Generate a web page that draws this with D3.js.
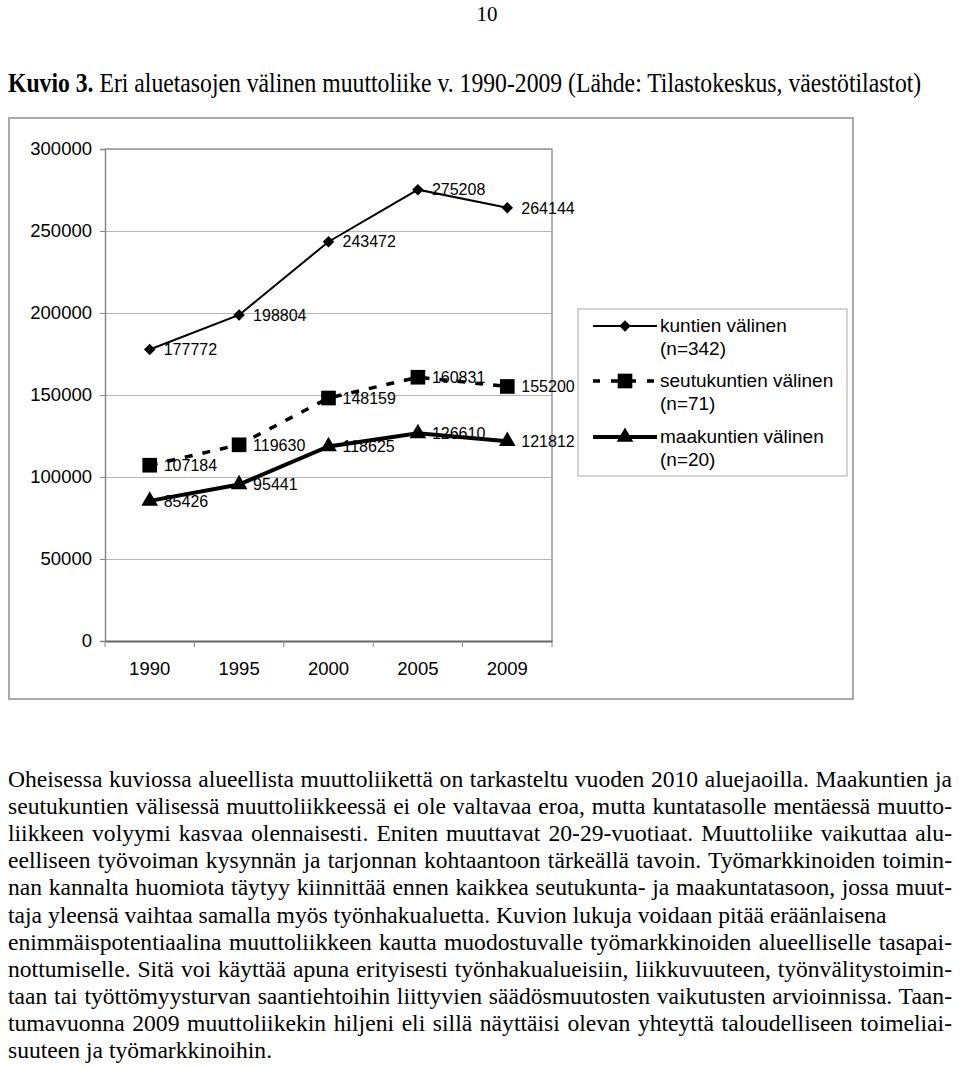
<!DOCTYPE html>
<html>
<head>
<meta charset="utf-8">
<script src="https://cdn.jsdelivr.net/npm/d3@7"></script>
<style>
  body { margin: 0; background: #fff; }
  .sans { font-family: "Liberation Sans", Arial, Helvetica, sans-serif; }
  .serif { font-family: "Liberation Serif", "Times New Roman", Times, serif; }
</style>
</head>
<body>
<div id="img"></div>
<script>
// data
const years = ["1990", "1995", "2000", "2005", "2009"];
const kuntien = [177772, 198804, 243472, 275208, 264144];
const seutukuntien = [107184, 119630, 148159, 160831, 155200];
const maakuntien = [85426, 95441, 118625, 126610, 121812];
const yTicks = [0, 50000, 100000, 150000, 200000, 250000, 300000];
const legendNames = [["kuntien välinen", "(n=342)"], ["seutukuntien välinen", "(n=71)"], ["maakuntien välinen", "(n=20)"]];

const pageNo = "10";
const titleBold = "Kuvio 3.";
const titleRest = " Eri aluetasojen välinen muuttoliike v. 1990-2009 (Lähde: Tilastokeskus, väestötilastot)";
const para = [
  "Oheisessa kuviossa alueellista muuttoliikettä on tarkasteltu vuoden 2010 aluejaoilla. Maakuntien ja",
  "seutukuntien välisessä muuttoliikkeessä ei ole valtavaa eroa, mutta kuntatasolle mentäessä muutto-",
  "liikkeen volyymi kasvaa olennaisesti. Eniten muuttavat 20-29-vuotiaat. Muuttoliike vaikuttaa alu-",
  "eelliseen työvoiman kysynnän ja tarjonnan kohtaantoon tärkeällä tavoin. Työmarkkinoiden toimin-",
  "nan kannalta huomiota täytyy kiinnittää ennen kaikkea seutukunta- ja maakuntatasoon, jossa muut-",
  "taja yleensä vaihtaa samalla myös työnhakualuetta. Kuvion lukuja voidaan pitää eräänlaisena",
  "enimmäispotentiaalina muuttoliikkeen kautta muodostuvalle työmarkkinoiden alueelliselle tasapai-",
  "nottumiselle. Sitä voi käyttää apuna erityisesti työnhakualueisiin, liikkuvuuteen, työnvälitystoimin-",
  "taan tai työttömyysturvan saantiehtoihin liittyvien säädösmuutosten vaikutusten arvioinnissa. Taan-",
  "tumavuonna 2009 muuttoliikekin hiljeni eli sillä näyttäisi olevan yhteyttä taloudelliseen toimeliai-",
  "suuteen ja työmarkkinoihin."
];
const justified = [true, true, true, true, true, false, true, true, true, true, false];

const W = 960, H = 1068;
const svg = d3.select("#img").append("svg")
    .attr("width", W)
    .attr("height", H);

// sivunumero ja otsikko
svg.append("text").attr("class", "serif")
    .attr("x", 487).attr("y", 21)
    .attr("text-anchor", "middle")
    .style("font-size", "21px")
    .text(pageNo);

const title = svg.append("text").attr("class", "serif")
    .attr("transform", "translate(8,92) scale(1,1.15)")
    .style("font-size", "23.7px");
title.append("tspan").style("font-weight", "bold").text(titleBold);
title.append("tspan").text(titleRest);

// kaavion kehys
svg.append("rect")
    .attr("x", 9).attr("y", 118)
    .attr("width", 844).attr("height", 581)
    .attr("fill", "none").attr("stroke", "#aaa").attr("stroke-width", 2);

const plot = {left: 105, top: 149, right: 552, bottom: 641};

const x = d3.scaleBand().domain(years).range([plot.left, plot.right]).padding(0);
const y = d3.scaleLinear().domain([0, 300000]).range([plot.bottom, plot.top]);

// ruudukko
svg.append("g")
    .attr("transform", `translate(${plot.left},0)`)
    .call(d3.axisLeft(y).tickValues(yTicks).tickSize(-(plot.right - plot.left)).tickFormat(""))
    .call(g => g.select(".domain").remove())
    .call(g => g.selectAll("line").attr("stroke", "#b5b5b5").attr("stroke-width", 1));

// piirtoalueen reunat
svg.append("path")
    .attr("d", `M${plot.left},${plot.top}H${plot.right}V${plot.bottom}`)
    .attr("fill", "none").attr("stroke", "#999").attr("stroke-width", 1.5);

// y-akseli
svg.append("g").attr("class", "sans")
    .attr("transform", `translate(${plot.left},0)`)
    .call(d3.axisLeft(y).tickValues(yTicks).tickSize(5).tickPadding(8).tickFormat(d => d))
    .call(g => g.select(".domain").attr("stroke", "#888").attr("stroke-width", 1.5))
    .call(g => g.selectAll("line").attr("stroke", "#888"))
    .call(g => g.selectAll("text").attr("fill", "#000").style("font-size", "18.5px").style("font-family", null));

// x-akseli
svg.append("g").attr("class", "sans")
    .attr("transform", `translate(0,${plot.bottom})`)
    .call(d3.axisBottom(x).tickSize(0).tickPadding(21))
    .call(g => g.select(".domain").attr("stroke", "#666").attr("stroke-width", 2))
    .call(g => g.selectAll("text").attr("fill", "#000").style("font-size", "18.5px").style("font-family", null));

const bounds = years.map(d => x(d)).concat([plot.right]);
svg.append("g").selectAll("line").data(bounds).join("line")
    .attr("x1", d => d).attr("x2", d => d)
    .attr("y1", plot.bottom).attr("y2", plot.bottom + 6)
    .attr("stroke", "#888").attr("stroke-width", 1);

// sarjat
const series = [
  {name: legendNames[0], values: kuntien, width: 2, dash: null,
   symbol: d3.symbol().type(d3.symbolSquare).size(66), rotate: 45},
  {name: legendNames[1], values: seutukuntien, width: 3.5, dash: "8,10",
   symbol: d3.symbol().type(d3.symbolSquare).size(215), rotate: 0},
  {name: legendNames[2], values: maakuntien, width: 4, dash: null,
   symbol: d3.symbol().type(d3.symbolTriangle).size(120), rotate: 0}
];

const cx = i => x(years[i]) + x.bandwidth() / 2;

const line = d3.line()
    .x((d, i) => cx(i))
    .y(d => y(d));

series.forEach(s => {
  svg.append("path")
      .datum(s.values)
      .attr("d", line)
      .attr("fill", "none")
      .attr("stroke", "#000")
      .attr("stroke-width", s.width)
      .attr("stroke-dasharray", s.dash);

  svg.append("g").selectAll("path")
      .data(s.values)
      .join("path")
      .attr("d", s.symbol)
      .attr("transform", (d, i) => `translate(${cx(i)},${y(d)}) rotate(${s.rotate})`)
      .attr("fill", "#000");

  svg.append("g").attr("class", "sans").selectAll("text")
      .data(s.values)
      .join("text")
      .attr("x", (d, i) => cx(i) + 14)
      .attr("y", d => y(d))
      .attr("dy", "0.36em")
      .style("font-size", "16px")
      .text(d => d);
});

// selite
svg.append("rect")
    .attr("x", 578).attr("y", 309)
    .attr("width", 269).attr("height", 167)
    .attr("fill", "#fff").attr("stroke", "#aaa").attr("stroke-width", 1);

const legendY = [326, 381, 437];
series.forEach((s, k) => {
  const ly = legendY[k];
  svg.append("line")
      .attr("x1", 593).attr("x2", 657)
      .attr("y1", ly).attr("y2", ly)
      .attr("stroke", "#000")
      .attr("stroke-width", s.width)
      .attr("stroke-dasharray", s.dash ? "7,11" : null);
  svg.append("path")
      .attr("d", s.symbol)
      .attr("transform", `translate(625,${ly}) rotate(${s.rotate})`)
      .attr("fill", "#000");
  const t = svg.append("text").attr("class", "sans")
      .style("font-size", "19px");
  t.append("tspan").attr("x", 660).attr("y", ly + 6).text(s.name[0]);
  t.append("tspan").attr("x", 660).attr("y", ly + 29).text(s.name[1]);
});

// leipäteksti, tasattu molempiin reunoihin
const textLeft = 8, textRight = 952;
para.forEach((txt, i) => {
  const t = svg.append("text").attr("class", "serif")
      .attr("x", textLeft)
      .attr("y", 787 + i * 27.1)
      .style("font-size", "23.6px")
      .text(txt);
  if (justified[i]) {
    const natural = t.node().getComputedTextLength();
    const spaces = txt.split(" ").length - 1;
    t.style("word-spacing", ((textRight - textLeft - natural) / spaces) + "px");
  }
});
</script>
</body>
</html>
